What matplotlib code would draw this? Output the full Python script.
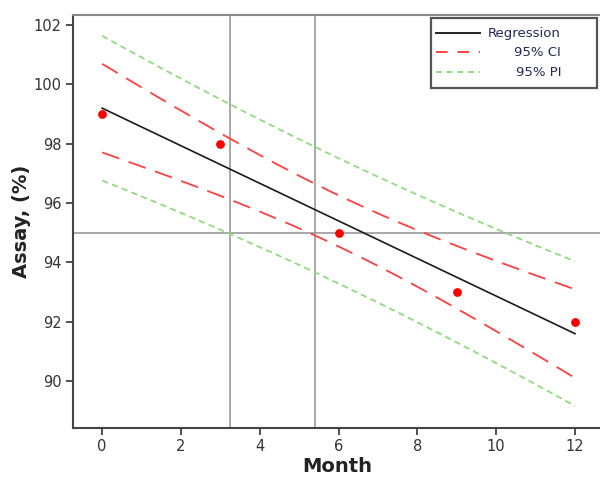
import numpy as np
import matplotlib
matplotlib.use("Agg")
import matplotlib.pyplot as plt
from matplotlib.lines import Line2D
from matplotlib.patches import Rectangle

# Data
months = [0, 3, 6, 9, 12]
assay = [99.0, 98.0, 95.0, 93.0, 92.0]
spec_limit = 95.0
shelf_life_pi = 3.25
shelf_life_ci = 5.4
t_crit = 3.182  # t(0.975, df=3)
x_ticks = [0, 2, 4, 6, 8, 10, 12]
y_ticks = [90, 92, 94, 96, 98, 100, 102]
legend_labels = ["Regression", "95% CI", "95% PI"]

# Regression fit and bands
x = np.array(months, float)
y = np.array(assay, float)
n = len(x)
slope, intercept = np.polyfit(x, y, 1)
resid = y - (intercept + slope * x)
s = np.sqrt(np.sum(resid ** 2) / (n - 2))
sxx = np.sum((x - x.mean()) ** 2)
xg = np.linspace(0, 12, 200)
fit = intercept + slope * xg
se_ci = s * np.sqrt(1 / n + (xg - x.mean()) ** 2 / sxx)
se_pi = s * np.sqrt(1 + 1 / n + (xg - x.mean()) ** 2 / sxx)

W, H = 600, 483
fig = plt.figure(figsize=(6, 4.83), dpi=100)
ax = fig.add_axes([73 / W, 1 - 428 / H, (601 - 73) / W, (428 - 15) / H])

red = "#ff4040"
green = "#8fdc7f"
grey = "#9a9a9a"

ax.axhline(spec_limit, color=grey, lw=1.2, zorder=1)
ax.axvline(shelf_life_pi, color=grey, lw=1.2, zorder=1)
ax.axvline(shelf_life_ci, color=grey, lw=1.2, zorder=1)

ax.plot(xg, fit, color="#1a1a1a", lw=1.2, zorder=3)
for sign in (1, -1):
    ax.plot(xg, fit + sign * t_crit * se_ci, color=red, lw=1.3,
            dashes=(10, 5.5), zorder=3)
    ax.plot(xg, fit + sign * t_crit * se_pi, color=green, lw=1.3,
            dashes=(3.5, 2.3), zorder=3)
ax.scatter(months, assay, s=40, color="#ff0000", zorder=4, linewidths=0)

ax.set_xlim(-0.74, 12.66)
ax.set_ylim(88.42, 102.34)
ax.set_xticks(x_ticks)
ax.set_yticks(y_ticks)
ax.tick_params(labelsize=10.5, colors="#333333", length=5, width=1.2,
               pad=3)
for lab in ax.get_xticklabels() + ax.get_yticklabels():
    lab.set_color("#333333")
ax.spines["right"].set_visible(False)
ax.spines["top"].set_color("#888888")
ax.spines["top"].set_linewidth(1.5)
ax.spines["left"].set_color("#444444")
ax.spines["bottom"].set_color("#444444")
ax.spines["left"].set_linewidth(1.5)
ax.spines["bottom"].set_linewidth(1.5)

ax.set_xlabel("Month", fontsize=14, fontweight="bold", color="#222222",
              labelpad=2)
ax.set_ylabel("Assay, (%)", fontsize=14, fontweight="bold", color="#222222",
              labelpad=2)

# Manual legend (pixel placement)
def fx(px):
    return px / W

def fy(py):
    return 1 - py / H

fig.patches.append(Rectangle((fx(431), fy(88)), fx(597) - fx(431),
                             fy(18) - fy(88), transform=fig.transFigure,
                             facecolor="white", edgecolor="#555555", lw=1.6,
                             zorder=10))
styles = [dict(color="#222222", lw=1.4),
          dict(color=red, lw=1.4, dashes=(6, 5)),
          dict(color=green, lw=1.4, dashes=(3, 2.5))]
rows = [33, 52, 72]
for lab, st, ry in zip(legend_labels, styles, rows):
    fig.add_artist(Line2D([fx(436), fx(480)], [fy(ry), fy(ry)],
                          transform=fig.transFigure, zorder=11, **st))
    fig.text(fx(561), fy(ry), lab, ha="right", va="center", fontsize=9.5,
             color="#1f2a55", zorder=12)

fig.savefig("out.png", dpi=100)
